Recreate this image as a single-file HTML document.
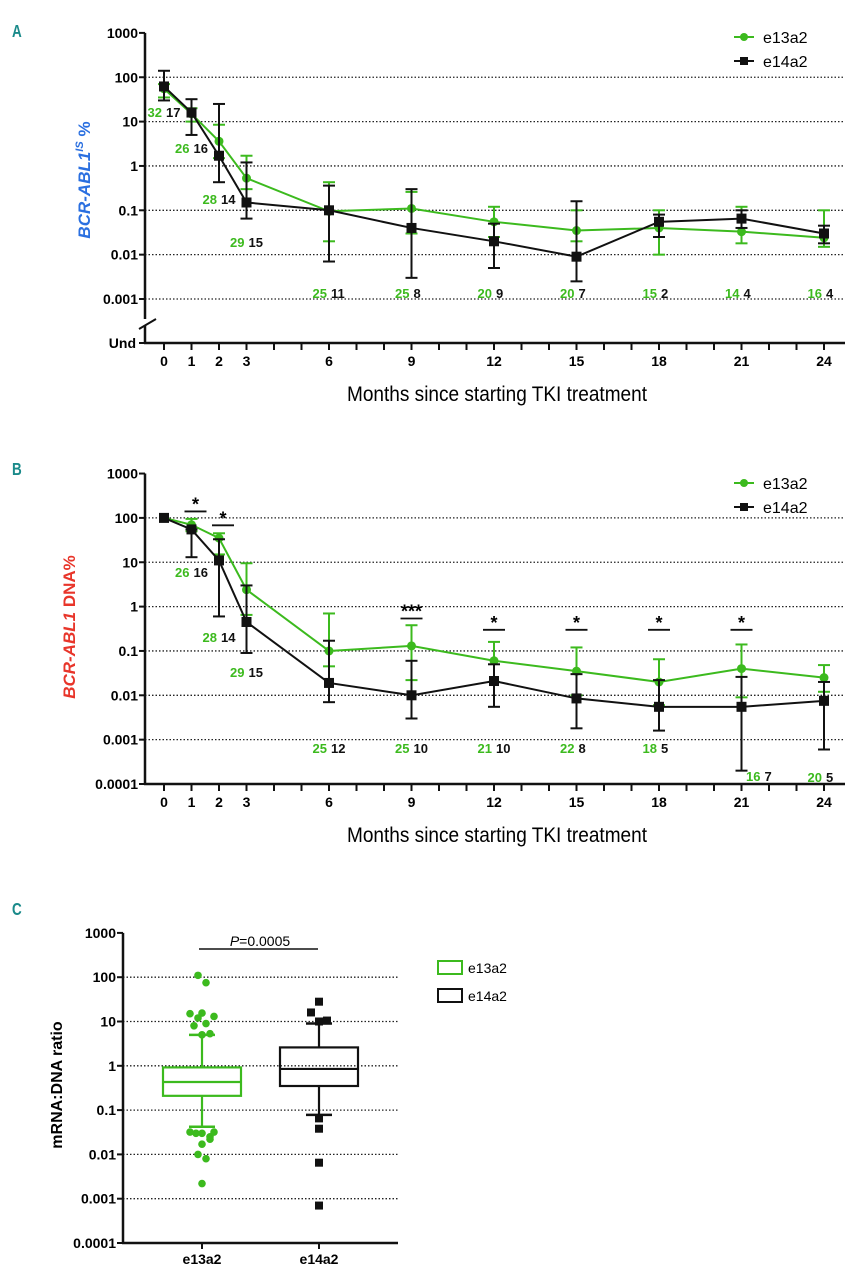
<!DOCTYPE html>
<html><head><meta charset="utf-8"><style>
body{margin:0;background:#fff;}
svg text{font-family:"Liberation Sans",sans-serif;}
</style></head><body>
<svg id="fig" width="862" height="1280" viewBox="0 0 862 1280" xmlns="http://www.w3.org/2000/svg"></svg>
<script>
const months=[0,1,2,3,6,9,12,15,18,21,24];
// Panel A
const aE13=[55,15,3.6,0.53,0.095,0.11,0.055,0.035,0.04,0.033,0.024];
const aE13lo=[35,10,1.5,0.3,0.02,0.03,0.025,0.02,0.01,0.018,0.015];
const aE13hi=[70,20,8.5,1.7,0.43,0.26,0.12,0.1,0.1,0.12,0.1];
const aE14=[62,16,1.7,0.15,0.1,0.04,0.02,0.009,0.055,0.065,0.03];
const aE14lo=[30,5,0.43,0.065,0.007,0.003,0.005,0.0025,0.025,0.04,0.018];
const aE14hi=[140,32,25,1.2,0.36,0.3,0.05,0.16,0.08,0.1,0.045];
const aN13=["32","26","28","29","25","25","20","20","15","14","16"];
const aN14=["17","16","14","15","11","8","9","7","2","4","4"];
// Panel B
const bE13=[100,70,35,2.4,0.1,0.13,0.06,0.035,0.02,0.04,0.025];
const bE13lo=[100,50,15,0.65,0.045,0.022,0.02,0.01,0.006,0.009,0.012];
const bE13hi=[100,95,45,9.5,0.7,0.38,0.16,0.12,0.065,0.14,0.048];
const bE14=[100,55,11,0.45,0.019,0.01,0.021,0.0085,0.0055,0.0055,0.0075];
const bE14lo=[100,13,0.6,0.09,0.007,0.003,0.0055,0.0018,0.0016,0.0002,0.0006];
const bE14hi=[100,55,33,3,0.17,0.06,0.05,0.03,0.022,0.026,0.02];
const bN13=["","26","28","29","25","25","21","22","18","16","20"];
const bN14=["","16","14","15","12","10","10","8","5","7","5"];
const bStarMonths=[1,2,9,12,15,18,21];
const bStarText=["*","*","***","*","*","*","*"];
const bStarLevel=[140,68,0.54,0.3,0.3,0.3,0.3];
// Panel C
const cGroups=["e13a2","e14a2"];
const cQ1=[0.21,0.35],cMed=[0.43,0.85],cQ3=[0.92,2.6],cWlo=[0.042,0.078],cWhi=[5,9];
const cOut13=[110,75,15,12,15.5,13,8,9,5,5.3,0.032,0.03,0.03,0.025,0.022,0.032,0.017,0.01,0.008,0.0022];
const cOut14=[28,16,10,10.5,0.065,0.038,0.0065,0.0007];
const yTicks=["1000","100","10","1","0.1","0.01","0.001","0.0001"];

const G='#3cba1e',K='#111';
const svg=document.getElementById('fig');
const NS='http://www.w3.org/2000/svg';
function el(tag,at,parent,txt){const e=document.createElementNS(NS,tag);for(const k in at)e.setAttribute(k,at[k]);if(txt!==undefined)e.textContent=txt;(parent||svg).appendChild(e);return e;}

function panel(cfg){
  const g=el('g',{});
  
  
  const X=m=>164+27.5*m;
  const Y=v=>cfg.base-44.35*(Math.log10(v)-cfg.minExp);
  for(let e=cfg.minExp+(cfg.und?0:1);e<=2;e++){
    const l=el('line',{x1:145,x2:845,y1:Y(Math.pow(10,e)),y2:Y(Math.pow(10,e)),stroke:'#222','stroke-width':1.3,'stroke-dasharray':'1.5,2'},g);
    
  }
  const top=Y(1000);
  el('line',{x1:145,x2:145,y1:top,y2:cfg.axisY,stroke:K,'stroke-width':2.5},g);
  el('line',{x1:144,x2:845,y1:cfg.axisY,y2:cfg.axisY,stroke:K,'stroke-width':2.5},g);
  for(let e=3;e>=cfg.minExp;e--){
    const y=Y(Math.pow(10,e));
    el('line',{x1:139,x2:145,y1:y,y2:y,stroke:K,'stroke-width':2},g);
    const t=el('text',{x:138,y:y+5,'text-anchor':'end','font-size':14,'font-weight':'bold'},g,yTicks[3-e]);
    
  }
  if(cfg.und){
    el('line',{x1:139,x2:145,y1:cfg.axisY,y2:cfg.axisY,stroke:K,'stroke-width':2},g);
    const t=el('text',{x:136,y:cfg.axisY+5,'text-anchor':'end','font-size':14,'font-weight':'bold'},g,'Und');
    
    el('rect',{x:141,y:cfg.axisY-24,width:8,height:6,fill:'#fff'},g);
    el('line',{x1:139,x2:156,y1:cfg.axisY-14,y2:cfg.axisY-24,stroke:K,'stroke-width':2},g);
  }
  for(let m=0;m<=24;m++){
    el('line',{x1:X(m),x2:X(m),y1:cfg.axisY,y2:cfg.axisY+7,stroke:K,'stroke-width':2},g);
  }
  months.forEach(m=>{
    const t=el('text',{x:X(m),y:cfg.axisY+23,'text-anchor':'middle','font-size':14,'font-weight':'bold'},g,String(m));
    
  });
  const xt=el('text',{x:497,y:cfg.axisY+58,'text-anchor':'middle','font-size':21,textLength:300,lengthAdjust:'spacingAndGlyphs'},g,'Months since starting TKI treatment');
  
  function series(vals,lo,hi,col,sq,nm){
    const sg=el('g',{},g);
    vals.forEach((v,i)=>{
      const x=X(months[i]);
      if(lo[i]!==hi[i]){
        el('line',{x1:x,x2:x,y1:Y(lo[i]),y2:Y(hi[i]),stroke:col,'stroke-width':2},sg);
        el('line',{x1:x-6,x2:x+6,y1:Y(lo[i]),y2:Y(lo[i]),stroke:col,'stroke-width':2},sg);
        el('line',{x1:x-6,x2:x+6,y1:Y(hi[i]),y2:Y(hi[i]),stroke:col,'stroke-width':2},sg);
      }
    });
    el('polyline',{points:vals.map((v,i)=>X(months[i])+','+Y(v)).join(' '),fill:'none',stroke:col,'stroke-width':2},sg);
    vals.forEach((v,i)=>{
      const x=X(months[i]),y=Y(v);
      const p=sq?el('rect',{x:x-5,y:y-5,width:10,height:10,fill:col},sg):el('circle',{cx:x,cy:y,r:4.5,fill:col},sg);
      
    });
  }
  series(cfg.e13,cfg.e13lo,cfg.e13hi,G,false,'series-e13a2');
  series(cfg.e14,cfg.e14lo,cfg.e14hi,K,true,'series-e14a2');
  cfg.n13.forEach((n,i)=>{
    if(!n)return;const x=X(months[i])+(cfg.nx?cfg.nx[i]:0),y=cfg.ny[i];
    const a=el('text',{x:x-2,y:y,'text-anchor':'end','font-size':13,'font-weight':'bold',fill:G},g,n);
    
    const b=el('text',{x:x+2,y:y,'text-anchor':'start','font-size':13,'font-weight':'bold',fill:K},g,cfg.n14[i]);
    
  });
  if(cfg.starMonths){
    cfg.starMonths.forEach((m,i)=>{
      const x=X(m)+(m<=2?4:0);const y=Y(cfg.starLevel[i]);
      el('line',{x1:x-11,x2:x+11,y1:y,y2:y,stroke:K,'stroke-width':1.8},g);
      const t=el('text',{x:x,y:y-1,'text-anchor':'middle','font-size':18,'font-weight':'bold'},g,cfg.starText[i]);
      
    });
  }
  const ly=cfg.legY;
  const l1=el('g',{},g);
  el('line',{x1:734,x2:754,y1:ly,y2:ly,stroke:G,'stroke-width':2},l1);el('circle',{cx:744,cy:ly,r:4,fill:G},l1);
  el('text',{x:763,y:ly+6,'font-size':16},l1,'e13a2');
  const l2=el('g',{},g);
  el('line',{x1:734,x2:754,y1:ly+24,y2:ly+24,stroke:K,'stroke-width':2},l2);el('rect',{x:740,y:ly+20,width:8,height:8,fill:K},l2);
  el('text',{x:763,y:ly+30,'font-size':16},l2,'e14a2');
  return {g,Y};
}

function label(t,x,y,nm){const e=el('text',{x:x,y:y,'font-size':18,'font-weight':'bold',fill:'#1a8a8a',transform:`translate(${x},${y}) scale(0.75,1) translate(${-x},${-y})`},svg,t);}
label('A',12,37,'panel-label-a');label('B',12,475,'panel-label-b');label('C',12,915,'panel-label-c');

panel({name:'panel-a',base:299,minExp:-3,axisY:343,und:true,e13:aE13,e13lo:aE13lo,e13hi:aE13hi,e14:aE14,e14lo:aE14lo,e14hi:aE14hi,n13:aN13,n14:aN14,ny:[117,153,204,247,298,298,298,298,298,298,298],legY:37});
panel({name:'panel-b',base:784,minExp:-4,axisY:784,und:false,e13:bE13,e13lo:bE13lo,e13hi:bE13hi,e14:bE14,e14lo:bE14lo,e14hi:bE14hi,n13:bN13,n14:bN14,ny:[0,577,642,677,753,753,753,753,753,781,782],nx:[0,0,0,0,0,0,0,0,0,21,0],starMonths:bStarMonths,starText:bStarText,starLevel:bStarLevel,legY:483});

let t=el('text',{x:0,y:0,transform:'translate(90,180) rotate(-90)','text-anchor':'middle','font-size':17,'font-weight':'bold','font-style':'italic',fill:'#2a6fe0'});

t.innerHTML='BCR-ABL1<tspan font-size="11" dy="-7">IS</tspan><tspan dy="7" font-style="normal"> %</tspan>';
t=el('text',{x:0,y:0,transform:'translate(75,627) rotate(-90)','text-anchor':'middle','font-size':17,'font-weight':'bold',fill:'#e8352a'});

t.innerHTML='<tspan font-style="italic">BCR-ABL1</tspan> DNA%';

(function(){
  const g=el('g',{});
  const Y=v=>1243-44.3*(Math.log10(v)+4);
  const cx=[202,319];
  for(let e=-3;e<=2;e++){const y=Y(Math.pow(10,e));el('line',{x1:123,x2:398,y1:y,y2:y,stroke:'#222','stroke-width':1.3,'stroke-dasharray':'1.5,2'},g);}
  el('line',{x1:123,x2:123,y1:Y(1000),y2:1243,stroke:K,'stroke-width':2.5},g);
  el('line',{x1:122,x2:398,y1:1243,y2:1243,stroke:K,'stroke-width':2.5},g);
  for(let e=3;e>=-4;e--){const y=Y(Math.pow(10,e));el('line',{x1:117,x2:123,y1:y,y2:y,stroke:K,'stroke-width':2},g);
    const tt=el('text',{x:116,y:y+5,'text-anchor':'end','font-size':14,'font-weight':'bold'},g,yTicks[3-e]);}
  const yt=el('text',{x:0,y:0,transform:'translate(62,1085) rotate(-90)','text-anchor':'middle','font-size':16,'font-weight':'bold'},g,'mRNA:DNA ratio');
  
  const cols=[G,K];
  cGroups.forEach((nm,i)=>{
    const x=cx[i],c=cols[i];
    el('line',{x1:x,x2:x,y1:1243,y2:1249,stroke:K,'stroke-width':2},g);
    const xl=el('text',{x:x,y:1264,'text-anchor':'middle','font-size':14,'font-weight':'bold'},g,nm);
    const bg=el('g',{},g);
    el('line',{x1:x,x2:x,y1:Y(cWhi[i]),y2:Y(cQ3[i]),stroke:c,'stroke-width':2.2},bg);
    el('line',{x1:x,x2:x,y1:Y(cQ1[i]),y2:Y(cWlo[i]),stroke:c,'stroke-width':2.2},bg);
    el('line',{x1:x-13,x2:x+13,y1:Y(cWhi[i]),y2:Y(cWhi[i]),stroke:c,'stroke-width':2.5},bg);
    el('line',{x1:x-13,x2:x+13,y1:Y(cWlo[i]),y2:Y(cWlo[i]),stroke:c,'stroke-width':2.5},bg);
    el('rect',{x:x-39,y:Y(cQ3[i]),width:78,height:Y(cQ1[i])-Y(cQ3[i]),fill:'none',stroke:c,'stroke-width':2.2},bg);
    el('line',{x1:x-39,x2:x+39,y1:Y(cMed[i]),y2:Y(cMed[i]),stroke:c,'stroke-width':2.2},bg);
  });
  const off13=[-4,4,-12,-4,0,12,-8,4,0,8,-12,-6,0,8,8,12,0,-4,4,0];
  cOut13.forEach((v,j)=>{const p=el('circle',{cx:cx[0]+off13[j],cy:Y(v),r:3.8,fill:G},g);});
  const off14=[0,-8,0,8,0,0,0,0];
  cOut14.forEach((v,j)=>{const p=el('rect',{x:cx[1]+off14[j]-4,y:Y(v)-4,width:8,height:8,fill:K},g);});
  el('line',{x1:199,x2:318,y1:949,y2:949,stroke:K,'stroke-width':1.5},g);
  const pt=el('text',{x:260,y:946,'text-anchor':'middle','font-size':14},g);pt.innerHTML='<tspan font-style="italic">P</tspan>=0.0005';
  
  const l1=el('g',{},g);
  el('rect',{x:438,y:961,width:24,height:13,fill:'none',stroke:G,'stroke-width':2},l1);el('text',{x:468,y:973,'font-size':14},l1,'e13a2');
  const l2=el('g',{},g);
  el('rect',{x:438,y:989,width:24,height:13,fill:'none',stroke:K,'stroke-width':2},l2);el('text',{x:468,y:1001,'font-size':14},l2,'e14a2');
})();
</script>
</body></html>
